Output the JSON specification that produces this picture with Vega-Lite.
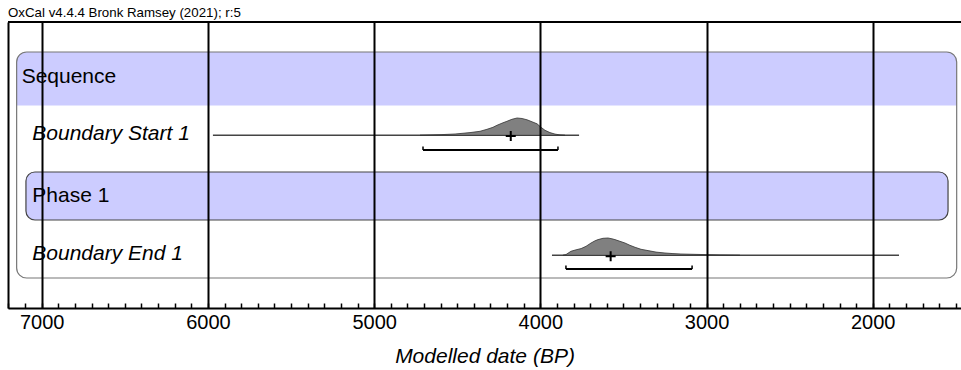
{
  "$schema": "https://vega.github.io/schema/vega-lite/v6.json",
  "width": 953,
  "height": 286,
  "autosize": "none",
  "padding": {"left": 8, "top": 22, "right": 0, "bottom": 62},
  "background": "white",
  "title": {
    "text": "OxCal v4.4.4 Bronk Ramsey (2021); r:5",
    "anchor": "start",
    "frame": "group",
    "font": "Liberation Sans",
    "fontSize": 13.3,
    "fontWeight": "normal",
    "color": "black",
    "baseline": "top",
    "offset": 2
  },
  "config": {
    "view": {"stroke": null},
    "text": {"font": "Liberation Sans", "color": "black"},
    "axisX": {"tickCount": 57}
  },
  "datasets": {
    "boxes": [
      {"name": "Sequence", "from": 7151, "to": 1495, "top": 30, "bottom": 256}
    ],
    "header": [
      {"name": "Sequence", "from": 7151, "to": 1495, "top": 30, "bottom": 83.5}
    ],
    "phase": [
      {"name": "Phase 1", "from": 7095, "to": 1547, "top": 150, "bottom": 198}
    ],
    "labels": [
      {"text": "Sequence", "bp": 7121, "level": 61.3, "style": "normal"},
      {"text": "Boundary Start 1", "bp": 7057, "level": 118, "style": "italic"},
      {"text": "Phase 1", "bp": 7057, "level": 179.7, "style": "normal"},
      {"text": "Boundary End 1", "bp": 7057, "level": 238, "style": "italic"}
    ],
    "ranges": [
      {"name": "Boundary Start 1", "from": 5970, "to": 3767, "level": 113.3},
      {"name": "Boundary End 1", "from": 3930, "to": 1842, "level": 233.3}
    ],
    "brackets": [
      {"name": "Boundary Start 1", "from": 4706, "to": 3894, "level": 128, "tip": 124.5},
      {"name": "Boundary End 1", "from": 3846, "to": 3087, "level": 247, "tip": 243.5}
    ],
    "crosses": [
      {"name": "Boundary Start 1", "bp": 4178, "level": 114},
      {"name": "Boundary End 1", "bp": 3577, "level": 234.3}
    ],
    "start_dist": [
      {"bp": 4724, "level": 113.3}, {"bp": 4604, "level": 112.7}, {"bp": 4513, "level": 112.0},
      {"bp": 4423, "level": 110.6}, {"bp": 4363, "level": 109.3}, {"bp": 4321, "level": 107.3},
      {"bp": 4285, "level": 105.3}, {"bp": 4261, "level": 103.3}, {"bp": 4225, "level": 100.8},
      {"bp": 4201, "level": 99.3}, {"bp": 4171, "level": 97.3}, {"bp": 4140, "level": 96.0},
      {"bp": 4110, "level": 96.5}, {"bp": 4080, "level": 97.8}, {"bp": 4050, "level": 99.8},
      {"bp": 4020, "level": 101.8}, {"bp": 3996, "level": 105.3}, {"bp": 3972, "level": 108.3},
      {"bp": 3942, "level": 110.6}, {"bp": 3912, "level": 112.1}, {"bp": 3882, "level": 112.9},
      {"bp": 3852, "level": 113.3}
    ],
    "end_dist": [
      {"bp": 3864, "level": 233.3}, {"bp": 3846, "level": 232.6}, {"bp": 3816, "level": 229.3},
      {"bp": 3785, "level": 227.8}, {"bp": 3755, "level": 226.6}, {"bp": 3725, "level": 224.3},
      {"bp": 3695, "level": 221.0}, {"bp": 3671, "level": 218.8}, {"bp": 3653, "level": 217.6},
      {"bp": 3623, "level": 216.3}, {"bp": 3593, "level": 216.0}, {"bp": 3569, "level": 216.8},
      {"bp": 3551, "level": 217.6}, {"bp": 3521, "level": 219.3}, {"bp": 3491, "level": 221.0},
      {"bp": 3461, "level": 223.3}, {"bp": 3430, "level": 225.3}, {"bp": 3394, "level": 227.3},
      {"bp": 3352, "level": 228.6}, {"bp": 3304, "level": 230.1}, {"bp": 3250, "level": 231.0},
      {"bp": 3202, "level": 231.6}, {"bp": 3154, "level": 232.0}, {"bp": 3081, "level": 232.3},
      {"bp": 3009, "level": 232.6}, {"bp": 2919, "level": 233.0}, {"bp": 2799, "level": 233.3}
    ]
  },
  "layer": [
    {
      "data": {"name": "header"},
      "mark": {"type": "rect", "fill": "#ccccff", "stroke": null, "cornerRadiusTopLeft": 10, "cornerRadiusTopRight": 10},
      "encoding": {
        "x": {"field": "from", "type": "quantitative", "scale": {"domain": [7203, 1469], "nice": false},
          "axis": {
            "tickCount": 57,
            "format": "d",
            "labelExpr": "datum.value % 1000 === 0 ? datum.label : ''",
            "grid": true,
            "gridColor": "black",
            "gridWidth": 2,
            "gridOpacity": {"condition": {"test": "datum.value % 1000 === 0", "value": 1}, "value": 0},
            "ticks": true,
            "tickSize": -5,
            "tickColor": "black",
            "tickWidth": 1.5,
            "domain": true,
            "domainColor": "black",
            "domainWidth": 2,
            "labelFont": "Liberation Sans",
            "labelFontSize": 20,
            "labelColor": "black",
            "labelPadding": 9,
            "labelOverlap": false,
            "labelFlush": false,
            "labelBound": false,
            "title": "Modelled date (BP)",
            "titleFont": "Liberation Sans",
            "titleFontSize": 21,
            "titleFontStyle": "italic",
            "titleFontWeight": "normal",
            "titleColor": "black",
            "titlePadding": 13,
            "zindex": 1
          }
        },
        "x2": {"field": "to"},
        "y": {"field": "top", "type": "quantitative", "scale": {"domain": [0, 286], "reverse": true},
          "axis": {"domain": true, "domainColor": "black", "domainWidth": 2, "ticks": false, "labels": false, "grid": false, "title": null, "zindex": 1}
        },
        "y2": {"field": "bottom"}
      }
    },
    {
      "data": {"name": "boxes"},
      "mark": {"type": "rect", "filled": false, "stroke": "#777777", "strokeWidth": 1.2, "cornerRadius": 10},
      "encoding": {
        "x": {"field": "from", "type": "quantitative", "scale": {"domain": [7203, 1469]}, "axis": {"title": "Modelled date (BP)"}},
        "x2": {"field": "to"},
        "y": {"field": "top", "type": "quantitative", "scale": {"domain": [0, 286], "reverse": true}, "axis": {"title": null}},
        "y2": {"field": "bottom"}
      }
    },
    {
      "data": {"name": "phase"},
      "mark": {"type": "rect", "fill": "#ccccff", "stroke": "#444444", "strokeWidth": 1.2, "cornerRadius": 9},
      "encoding": {
        "x": {"field": "from", "type": "quantitative", "scale": {"domain": [7203, 1469]}, "axis": {"title": "Modelled date (BP)"}},
        "x2": {"field": "to"},
        "y": {"field": "top", "type": "quantitative", "scale": {"domain": [0, 286], "reverse": true}, "axis": {"title": null}},
        "y2": {"field": "bottom"}
      }
    },
    {
      "data": {"name": "labels"},
      "transform": [{"filter": "datum.style === 'normal'"}],
      "mark": {"type": "text", "align": "left", "baseline": "alphabetic", "fontSize": 21, "font": "Liberation Sans", "fontStyle": "normal"},
      "encoding": {
        "x": {"field": "bp", "type": "quantitative", "scale": {"domain": [7203, 1469]}, "axis": {"title": "Modelled date (BP)"}},
        "y": {"field": "level", "type": "quantitative", "scale": {"domain": [0, 286], "reverse": true}, "axis": {"title": null}},
        "text": {"field": "text"}
      }
    },
    {
      "data": {"name": "labels"},
      "transform": [{"filter": "datum.style === 'italic'"}],
      "mark": {"type": "text", "align": "left", "baseline": "alphabetic", "fontSize": 21, "font": "Liberation Sans", "fontStyle": "italic"},
      "encoding": {
        "x": {"field": "bp", "type": "quantitative", "scale": {"domain": [7203, 1469]}, "axis": {"title": "Modelled date (BP)"}},
        "y": {"field": "level", "type": "quantitative", "scale": {"domain": [0, 286], "reverse": true}, "axis": {"title": null}},
        "text": {"field": "text"}
      }
    },
    {
      "data": {"name": "ranges"},
      "mark": {"type": "rule", "color": "#444444", "strokeWidth": 1.5},
      "encoding": {
        "x": {"field": "from", "type": "quantitative", "scale": {"domain": [7203, 1469]}, "axis": {"title": "Modelled date (BP)"}},
        "x2": {"field": "to"},
        "y": {"field": "level", "type": "quantitative", "scale": {"domain": [0, 286], "reverse": true}, "axis": {"title": null}}
      }
    },
    {
      "data": {"name": "start_dist"},
      "mark": {"type": "area", "orient": "vertical", "fill": "#808080", "stroke": "#333333", "strokeWidth": 0.8},
      "encoding": {
        "x": {"field": "bp", "type": "quantitative", "scale": {"domain": [7203, 1469]}, "axis": {"title": "Modelled date (BP)"}},
        "y": {"field": "level", "type": "quantitative", "scale": {"domain": [0, 286], "reverse": true}, "axis": {"title": null}},
        "y2": {"datum": 113.3}
      }
    },
    {
      "data": {"name": "end_dist"},
      "mark": {"type": "area", "orient": "vertical", "fill": "#808080", "stroke": "#333333", "strokeWidth": 0.8},
      "encoding": {
        "x": {"field": "bp", "type": "quantitative", "scale": {"domain": [7203, 1469]}, "axis": {"title": "Modelled date (BP)"}},
        "y": {"field": "level", "type": "quantitative", "scale": {"domain": [0, 286], "reverse": true}, "axis": {"title": null}},
        "y2": {"datum": 233.3}
      }
    },
    {
      "data": {"name": "crosses"},
      "mark": {"type": "point", "shape": "M-1,0L1,0M0,-1L0,1", "filled": false, "stroke": "black", "strokeWidth": 2, "size": 100, "opacity": 1},
      "encoding": {
        "x": {"field": "bp", "type": "quantitative", "scale": {"domain": [7203, 1469]}, "axis": {"title": "Modelled date (BP)"}},
        "y": {"field": "level", "type": "quantitative", "scale": {"domain": [0, 286], "reverse": true}, "axis": {"title": null}}
      }
    },
    {
      "data": {"name": "brackets"},
      "mark": {"type": "rule", "color": "black", "strokeWidth": 2},
      "encoding": {
        "x": {"field": "from", "type": "quantitative", "scale": {"domain": [7203, 1469]}, "axis": {"title": "Modelled date (BP)"}},
        "x2": {"field": "to"},
        "y": {"field": "level", "type": "quantitative", "scale": {"domain": [0, 286], "reverse": true}, "axis": {"title": null}}
      }
    },
    {
      "data": {"name": "brackets"},
      "mark": {"type": "rule", "color": "black", "strokeWidth": 1.5},
      "encoding": {
        "x": {"field": "from", "type": "quantitative", "scale": {"domain": [7203, 1469]}, "axis": {"title": "Modelled date (BP)"}},
        "y": {"field": "level", "type": "quantitative", "scale": {"domain": [0, 286], "reverse": true}, "axis": {"title": null}},
        "y2": {"field": "tip"}
      }
    },
    {
      "data": {"name": "brackets"},
      "mark": {"type": "rule", "color": "black", "strokeWidth": 1.5},
      "encoding": {
        "x": {"field": "to", "type": "quantitative", "scale": {"domain": [7203, 1469]}, "axis": {"title": "Modelled date (BP)"}},
        "y": {"field": "level", "type": "quantitative", "scale": {"domain": [0, 286], "reverse": true}, "axis": {"title": null}},
        "y2": {"field": "tip"}
      }
    },
    {
      "data": {"name": "brackets"},
      "mark": {"type": "rule", "color": "black", "strokeWidth": 2},
      "encoding": {
        "y": {"datum": 0, "type": "quantitative", "scale": {"domain": [0, 286], "reverse": true}, "axis": {"title": null}}
      }
    }
  ]
}
